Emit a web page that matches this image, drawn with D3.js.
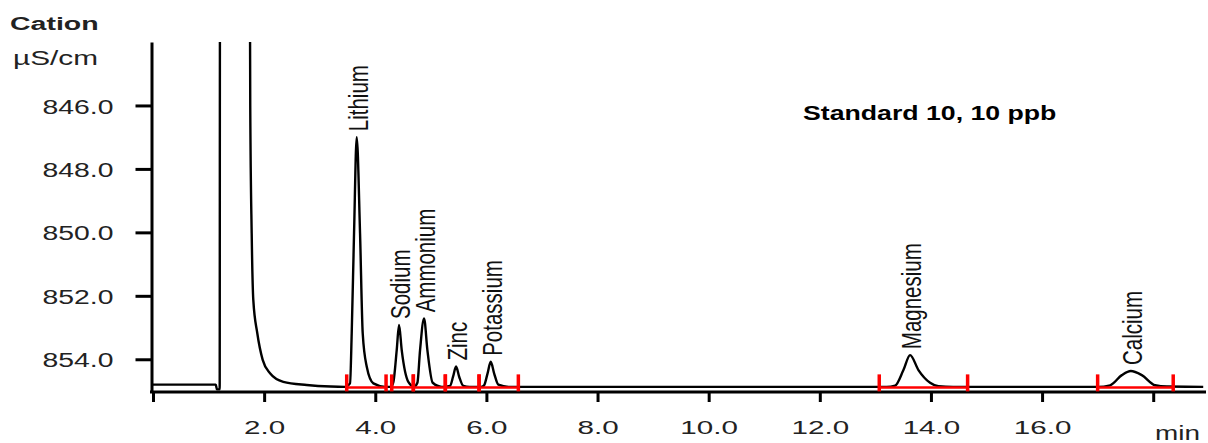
<!DOCTYPE html>
<html>
<head>
<meta charset="utf-8">
<script src="https://cdn.jsdelivr.net/npm/d3@7"></script>
<style>
  body { margin: 0; background: #fff; }
  svg { display: block; font-family: "Liberation Sans", Arial, sans-serif; }
</style>
</head>
<body>
<svg id="chart" width="1208" height="443"></svg>
<script>
// trace points: [time (min), conductivity (uS/cm)]
var solventTrace = [[0, 854.80], [1.13, 854.80], [1.15, 854.95], [1.20, 854.95], [1.205, 843.0],
  [1.745, 843.0], [1.75, 846.0], [1.776, 850.03], [1.805, 852.13], [1.877, 853.18], [1.974, 854.02],
  [2.106, 854.44], [2.345, 854.71], [2.766, 854.81], [3.2, 854.86], [3.45, 854.87]];
var lithiumTrace = [[3.546, 854.76], [3.576, 853.18], [3.618, 850.03], [3.666, 847.0], [3.726, 850.03],
  [3.774, 853.18], [3.846, 854.23], [3.966, 854.76], [4.18, 854.87]];
var sodiumTrace = [[4.28, 854.87], [4.325, 854.72], [4.386, 853.71], [4.428, 852.92], [4.476, 853.71],
  [4.595, 854.71], [4.70, 854.86]];
var ammoniumTrace = [[4.758, 854.74], [4.806, 853.71], [4.878, 852.71], [4.938, 853.71], [5.034, 854.74],
  [5.20, 854.87]];
var zincTrace = [[5.346, 854.84], [5.40, 854.55], [5.454, 854.23], [5.51, 854.55], [5.585, 854.84],
  [5.70, 854.87]];
var potassiumTrace = [[5.90, 854.87], [5.958, 854.82], [6.02, 854.45], [6.078, 854.08], [6.14, 854.45],
  [6.215, 854.80], [6.40, 854.87]];
var magnesiumTrace = [[13.2, 854.87], [13.355, 854.83], [13.505, 854.34], [13.625, 853.87], [13.775, 854.34],
  [13.985, 854.74], [14.135, 854.85], [14.4, 854.87]];
var calciumTrace = [[17.0, 854.87], [17.225, 854.82], [17.435, 854.5], [17.597, 854.37], [17.795, 854.5],
  [18.035, 854.82], [18.245, 854.86], [18.9, 854.87]];

// peak labels
var peakNames = ["Lithium", "Sodium", "Ammonium", "Zinc", "Potassium", "Magnesium", "Calcium"];
var peakTimes = [3.666, 4.428, 4.878, 5.454, 6.078, 13.625, 17.597];
var peakValues = [847.0, 852.92, 852.71, 854.23, 854.08, 853.87, 854.37];

// integration windows (red markers)
var integStart = [3.486, 4.296, 4.685, 5.261, 5.868, 13.07, 17.0];
var integEnd = [4.194, 4.685, 5.261, 5.868, 6.575, 14.66, 18.36];
var baselineValue = 854.87;

// axes
var yTicks = [846, 848, 850, 852, 854];
var xTicks = [0, 2, 4, 6, 8, 10, 12, 14, 16, 18];
var xLabelled = [2, 4, 6, 8, 10, 12, 14, 16];

var svg = d3.select("#chart");

var x = d3.scaleLinear().domain([0, 18.95]).range([153, 1206]);
var y = d3.scaleLinear().domain([844, 855]).range([42, 391]);

svg.append("rect").attr("width", 1208).attr("height", 443).attr("fill", "#fff");

svg.append("defs").append("clipPath").attr("id", "plotclip")
  .append("rect")
  .attr("x", x(0)).attr("y", y(844))
  .attr("width", x(18.95) - x(0)).attr("height", y(855) - y(844));

// y axis
var yAxis = svg.append("g")
  .attr("transform", "translate(151.5,0)")
  .call(d3.axisLeft(y).tickValues(yTicks).tickSize(16).tickSizeOuter(0).tickFormat(d3.format(".1f")));
yAxis.select(".domain").attr("stroke", "#000").attr("stroke-width", 3);
yAxis.selectAll(".tick line").attr("stroke", "#000").attr("stroke-width", 3);
yAxis.selectAll(".tick text")
  .attr("x", 0).attr("dy", "0.36em")
  .attr("transform", "translate(-38,0) scale(1.35,1)")
  .attr("font-size", 21).attr("fill", "#222")
  .attr("font-family", "Liberation Sans, Arial, sans-serif");

// x axis
var xAxis = svg.append("g")
  .attr("transform", "translate(0,392)")
  .call(d3.axisBottom(x).tickValues(xTicks).tickSize(10).tickSizeOuter(0)
    .tickFormat(function (d) { return xLabelled.indexOf(d) >= 0 ? d3.format(".1f")(d) : ""; }));
xAxis.select(".domain").attr("stroke", "#000").attr("stroke-width", 3)
  .attr("d", "M150,0H1206");
xAxis.selectAll(".tick line").attr("stroke", "#000").attr("stroke-width", 3);
xAxis.selectAll(".tick text")
  .attr("y", 0).attr("dy", 0)
  .attr("transform", "translate(0,42) scale(1.6,1)")
  .attr("font-size", 18.5).attr("fill", "#222")
  .attr("font-family", "Liberation Sans, Arial, sans-serif");

// chromatogram trace
var trace = [].concat(solventTrace, lithiumTrace, sodiumTrace, ammoniumTrace, zincTrace,
  potassiumTrace, magnesiumTrace, calciumTrace);

var line = d3.line()
  .x(function (d) { return x(d[0]); })
  .y(function (d) { return y(d[1]); })
  .curve(d3.curveMonotoneX);

svg.append("path")
  .datum(trace)
  .attr("clip-path", "url(#plotclip)")
  .attr("fill", "none")
  .attr("stroke", "#000")
  .attr("stroke-width", 2.4)
  .attr("stroke-linejoin", "round")
  .attr("d", line);

// integration markers
var integ = svg.append("g").attr("class", "integration");
var by = y(baselineValue) + 0.5;
integStart.forEach(function (s, i) {
  integ.append("line")
    .attr("x1", x(s)).attr("x2", x(integEnd[i]))
    .attr("y1", by).attr("y2", by)
    .attr("stroke", "#ff0000").attr("stroke-width", 2.5);
});
integStart.concat(integEnd).forEach(function (t) {
  integ.append("line")
    .attr("x1", x(t)).attr("x2", x(t))
    .attr("y1", by - 13).attr("y2", by + 4)
    .attr("stroke", "#ff0000").attr("stroke-width", 3.5);
});

// peak labels
svg.selectAll(".peak-label")
  .data(peakNames)
  .enter().append("text")
  .attr("class", "peak-label")
  .attr("transform", function (d, i) {
    return "translate(" + (x(peakTimes[i]) + 11) + "," + (y(peakValues[i]) - 6) + ") scale(1.33,1) rotate(-90)";
  })
  .attr("font-size", 20.5)
  .attr("fill", "#111")
  .text(function (d) { return d; });

// titles
svg.append("text")
  .attr("transform", "translate(10,30) scale(1.5,1)")
  .attr("font-size", 19).attr("font-weight", "bold").attr("fill", "#222")
  .text("Cation");
svg.append("text")
  .attr("transform", "translate(13,65) scale(1.42,1)")
  .attr("font-size", 21).attr("fill", "#222")
  .text("µS/cm");
svg.append("text")
  .attr("transform", "translate(803,120) scale(1.27,1)")
  .attr("font-size", 21).attr("font-weight", "bold").attr("fill", "#000")
  .text("Standard 10, 10 ppb");
svg.append("text")
  .attr("transform", "translate(1155,440) scale(1.33,1)")
  .attr("font-size", 21).attr("fill", "#222")
  .text("min");
</script>
</body>
</html>
